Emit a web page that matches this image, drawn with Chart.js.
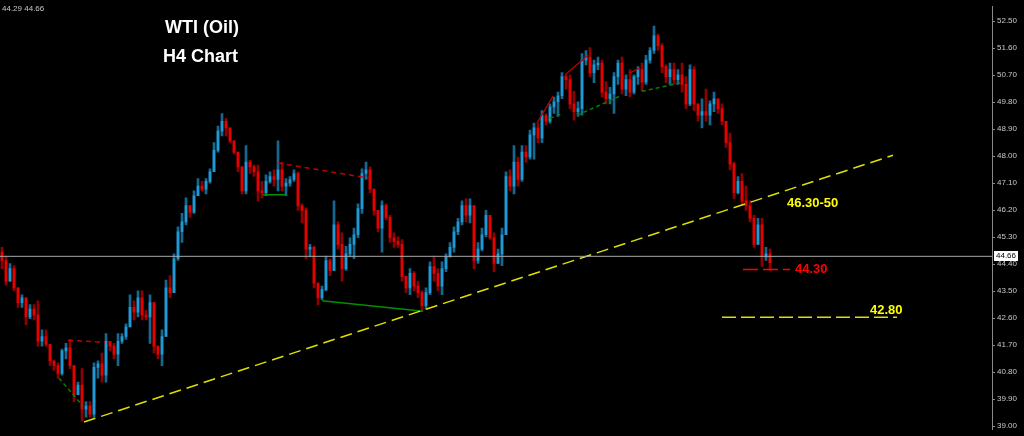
<!DOCTYPE html>
<html lang="en">
<head>
<meta charset="UTF-8">
<title>WTI (Oil) H4 Chart</title>
<script src="https://cdn.jsdelivr.net/npm/chart.js"></script>
<style>
  html, body { margin: 0; padding: 0; background: #000; overflow: hidden; }
  #wrap { width: 1024px; height: 436px; }
</style>
</head>
<body>
<div id="wrap"><canvas id="oilChart" width="1024" height="436"></canvas></div>
<script>
// H4 candles; each bar opens at the previous close
const firstOpen = 44.80;
const highs = [
  44.96, 44.67, 44.42, 44.35, 43.51, 43.38, 43.28, 43.05, 43.05, 43.18,
  42.21, 42.21, 41.67, 41.18, 41.11, 41.57, 41.76, 41.89, 41.02, 40.47,
  40.92, 39.82, 39.82, 41.11, 41.18, 41.44, 42.09, 41.83, 41.76, 42.09,
  42.09, 42.41, 43.38, 43.18, 43.51, 43.51, 42.86, 43.38, 43.12, 41.67,
  42.21, 43.87, 44.02, 44.74, 45.64, 46.09, 46.61, 46.35, 46.84, 47.25,
  47.16, 47.25, 47.58, 48.45, 49.00, 49.42, 49.26, 48.94, 48.51, 48.13,
  47.64, 48.35, 47.86, 47.70, 47.70, 47.16, 47.38, 47.48, 47.54, 48.51,
  47.80, 47.25, 47.32, 47.54, 47.48, 46.41, 46.28, 45.06, 44.99, 43.77,
  43.67, 44.67, 44.58, 46.51, 45.81, 45.44, 44.99, 45.28, 45.60, 46.41,
  47.58, 47.80, 47.64, 46.90, 46.19, 46.51, 46.41, 46.03, 45.44, 45.31,
  45.22, 43.99, 44.25, 44.15, 43.83, 43.51, 43.61, 44.48, 44.67, 44.25,
  44.48, 44.74, 45.12, 45.64, 45.93, 46.51, 46.58, 46.58, 46.35, 45.12,
  45.60, 46.19, 46.03, 45.44, 44.90, 45.60, 47.48, 47.54, 48.35, 47.97,
  48.35, 48.35, 48.87, 49.10, 49.10, 49.52, 49.42, 49.74, 49.97, 50.13,
  50.78, 50.71, 50.71, 50.16, 49.81, 51.42, 51.52, 51.62, 51.20, 51.30,
  51.20, 50.48, 50.29, 50.78, 51.20, 51.30, 50.71, 50.88, 50.71, 50.98,
  51.10, 51.36, 51.62, 52.33, 52.07, 51.75, 51.04, 51.10, 51.10, 50.88,
  51.10, 50.65, 51.04, 50.98, 49.74, 49.91, 50.23, 49.84, 50.13, 49.91,
  49.74, 49.16, 48.77, 47.80, 47.32, 47.42, 47.00, 46.51, 46.03, 45.93,
  45.93, 44.96, 44.90
];
const lows = [
  44.25, 43.70, 43.93, 43.51, 42.96, 42.96, 42.38, 42.58, 42.54, 41.67,
  41.67, 41.67, 41.02, 40.86, 40.60, 40.70, 41.24, 40.92, 39.82, 40.05,
  39.17, 39.30, 39.30, 39.30, 40.60, 40.47, 40.47, 41.51, 41.24, 41.02,
  41.76, 41.89, 42.64, 42.54, 42.64, 42.54, 42.54, 41.76, 41.44, 41.24,
  41.02, 41.99, 43.28, 43.45, 44.52, 45.12, 45.71, 45.96, 46.09, 46.68,
  46.84, 46.74, 47.10, 47.48, 48.13, 48.67, 48.67, 48.45, 48.07, 47.48,
  46.74, 46.74, 47.42, 47.32, 46.51, 46.61, 46.68, 47.10, 47.00, 46.84,
  46.84, 46.68, 47.00, 47.16, 46.19, 45.77, 44.58, 44.64, 43.61, 43.05,
  43.22, 43.51, 44.02, 44.19, 44.90, 43.83, 44.19, 44.64, 44.58, 45.28,
  46.09, 47.22, 46.78, 46.03, 45.48, 44.80, 45.87, 45.12, 44.96, 44.96,
  43.83, 43.45, 43.38, 43.51, 43.28, 42.83, 42.90, 43.38, 43.83, 43.51,
  43.38, 44.15, 44.64, 44.80, 45.38, 45.71, 45.81, 45.77, 44.25, 44.42,
  44.84, 45.31, 45.22, 44.15, 44.52, 44.35, 45.81, 46.84, 46.74, 47.00,
  47.16, 47.80, 47.90, 47.90, 48.45, 48.45, 49.04, 49.10, 49.42, 49.32,
  49.91, 50.23, 49.58, 49.20, 49.32, 49.36, 51.04, 50.65, 50.45, 50.88,
  49.97, 49.74, 49.74, 49.42, 50.39, 50.07, 50.01, 49.97, 50.07, 50.39,
  50.16, 50.39, 51.10, 51.42, 51.52, 50.78, 50.45, 50.39, 50.39, 50.39,
  50.13, 49.58, 49.68, 49.52, 49.16, 48.94, 49.16, 49.04, 49.48, 49.42,
  49.04, 48.29, 47.54, 46.58, 46.74, 46.35, 46.19, 45.81, 44.96, 45.06,
  44.32, 44.52, 44.19
];
const closes = [
  44.52, 43.83, 44.25, 43.61, 43.12, 43.28, 42.64, 42.90, 42.70, 41.83,
  41.99, 41.73, 41.18, 41.02, 40.76, 41.51, 41.61, 41.02, 40.05, 40.37,
  39.57, 39.67, 39.40, 40.96, 41.08, 40.70, 41.83, 41.67, 41.40, 41.83,
  41.99, 42.31, 42.96, 42.80, 43.28, 42.70, 42.64, 43.12, 41.67, 41.40,
  41.99, 43.61, 43.45, 44.58, 45.48, 45.81, 46.35, 46.13, 46.68, 47.00,
  46.90, 47.16, 47.48, 48.19, 48.83, 49.16, 48.94, 48.51, 48.13, 47.64,
  46.84, 47.80, 47.64, 47.48, 46.84, 46.78, 47.16, 47.32, 47.22, 47.54,
  47.00, 47.10, 47.22, 47.42, 46.35, 46.19, 44.90, 44.96, 43.77, 43.28,
  43.55, 44.52, 44.19, 45.71, 45.06, 44.25, 44.74, 45.06, 45.38, 46.25,
  47.42, 47.54, 46.90, 46.19, 45.60, 46.35, 45.96, 45.28, 45.16, 45.06,
  43.99, 43.61, 44.09, 43.67, 43.45, 43.02, 43.45, 44.32, 44.09, 43.67,
  44.25, 44.64, 44.96, 45.48, 45.81, 46.35, 46.03, 46.35, 44.52, 44.90,
  45.38, 46.03, 45.28, 44.42, 44.74, 45.38, 47.32, 47.00, 47.80, 47.22,
  48.13, 47.97, 48.71, 48.94, 48.61, 49.36, 49.16, 49.64, 49.81, 50.01,
  50.65, 50.55, 49.74, 49.48, 49.58, 51.20, 51.30, 50.78, 51.04, 51.10,
  50.13, 49.91, 50.07, 50.65, 51.10, 50.23, 50.55, 50.13, 50.65, 50.88,
  50.46, 51.20, 51.52, 52.01, 51.68, 50.98, 50.65, 50.88, 50.55, 50.71,
  50.39, 49.74, 50.88, 49.74, 49.36, 49.48, 49.36, 49.74, 49.91, 49.58,
  49.16, 48.45, 47.74, 46.78, 47.16, 46.51, 46.35, 45.93, 45.06, 45.71,
  44.64, 44.74, 44.45
];

const priceTicks = [52.50, 51.60, 50.70, 49.80, 48.90, 48.00, 47.10, 46.20,
  45.30, 44.40, 43.50, 42.60, 41.70, 40.80, 39.90, 39.00];
const bidAsk = '44.29 44.66';
const lastPrice = 44.66;

// hand-drawn lines on the chart, as [bar index, price]
const trendLine = [[20.5, 39.14], [222.75, 48.03]];
const level4280 = [[180, 42.63], [223.75, 42.63]];
const level4430 = [[185.25, 44.22], [197, 44.22]];
const redDashTop = [[69, 47.77], [92, 47.26]];
const redDashLow = [[16.5, 41.86], [25.75, 41.80]];
const greenMid = [[65.25, 46.71], [70.75, 46.71]];
const greenLow = [[80, 43.18], [105.25, 42.83]];
const greenDashLeft = [[14.25, 40.60], [20.25, 39.67]];
const greenDashTop1 = [[137, 49.26], [140.25, 49.42]];
const greenDashTop2 = [[143.75, 49.36], [154.5, 50.00]];
const greenDashTop3 = [[160, 50.16], [170, 50.45]];
const redTop1 = [[133.75, 49.10], [137.75, 50.00]];
const redTop2 = [[140.75, 50.71], [146.5, 51.36]];
const redTop3 = [[157, 50.78], [159.5, 50.94]];

const opens = closes.map((c, i) => i === 0 ? firstOpen : closes[i - 1]);
const isUp = closes.map((c, i) => c >= opens[i]);

const wickData = closes.map((c, i) => ({
  x: i, y: [Math.min(lows[i], opens[i], c), Math.max(highs[i], opens[i], c)]
}));
const bodyData = closes.map((c, i) => ({ x: i, y: [opens[i], c] }));

function lineSet(points, color, width, dash) {
  return {
    type: 'line',
    data: points.map(p => ({ x: p[0], y: p[1] })),
    borderColor: color,
    borderWidth: width,
    borderDash: dash || [],
    pointRadius: 0,
    fill: false,
    order: 1
  };
}

const textPlugin = {
  id: 'texts',
  afterDraw(chart) {
    const ctx = chart.ctx;
    const y = chart.scales.y;
    const x = chart.scales.x;
    ctx.save();
    ctx.textBaseline = 'alphabetic';

    ctx.fillStyle = '#c8c8c8';
    ctx.font = '8px "Liberation Sans", Arial, sans-serif';
    ctx.fillText(bidAsk, 2, 11);

    ctx.fillStyle = '#ffffff';
    ctx.font = 'bold 18px "Liberation Sans", Arial, sans-serif';
    ctx.fillText('WTI (Oil)', 165, 33);
    ctx.fillText('H4 Chart', 163, 62);

    ctx.font = 'bold 13px "Liberation Sans", Arial, sans-serif';
    ctx.fillStyle = '#ffff00';
    ctx.fillText('46.30-50', x.getPixelForValue(196.25), 207);
    ctx.fillText('42.80', x.getPixelForValue(217), y.getPixelForValue(level4280[0][1]) - 3);
    ctx.fillStyle = '#ff0000';
    ctx.fillText('44.30', x.getPixelForValue(198.25), y.getPixelForValue(level4430[0][1]) + 3);

    // current price box on the axis
    const py = Math.round(y.getPixelForValue(lastPrice));
    ctx.fillStyle = '#ffffff';
    ctx.fillRect(994, py - 5, 24, 10);
    ctx.fillStyle = '#000000';
    ctx.font = '8px "Liberation Sans", Arial, sans-serif';
    ctx.textBaseline = 'middle';
    ctx.fillText(lastPrice.toFixed(2), 996, py);
    ctx.restore();
  }
};

new Chart(document.getElementById('oilChart'), {
  type: 'bar',
  data: {
    datasets: [
      lineSet([[-0.5, lastPrice], [247.5, lastPrice]], '#a8a8a8', 1),
      lineSet(trendLine, '#e0e000', 1.5, [12, 6]),
      lineSet(level4280, '#e0e000', 1.5, [14, 5]),
      lineSet(level4430, '#ff0000', 1.5, [15, 5]),
      lineSet(redDashTop, '#c00000', 1.5, [5, 4]),
      lineSet(redDashLow, '#c00000', 1.5, [5, 4]),
      lineSet(greenMid, '#009000', 1.5),
      lineSet(greenLow, '#009000', 1.5),
      lineSet(greenDashLeft, '#008000', 1.5, [4, 3]),
      lineSet(greenDashTop1, '#008000', 1.5, [4, 3]),
      lineSet(greenDashTop2, '#008000', 1.5, [4, 3]),
      lineSet(greenDashTop3, '#008000', 1.5, [4, 3]),
      lineSet(redTop1, '#c00000', 1.2),
      lineSet(redTop2, '#c00000', 1.2),
      lineSet(redTop3, '#c00000', 1.2),
      {
        data: bodyData,
        backgroundColor: isUp.map(u => u ? '#1e9ad6' : '#e60000'),
        barThickness: 2,
        minBarLength: 1,
        grouped: false,
        order: 2
      },
      {
        data: wickData,
        backgroundColor: isUp.map(u => u ? '#15688f' : '#900000'),
        barThickness: 2,
        grouped: false,
        order: 3
      }
    ]
  },
  options: {
    responsive: false,
    animation: false,
    events: [],
    layout: { padding: 0 },
    plugins: { legend: { display: false }, tooltip: { enabled: false } },
    scales: {
      x: { type: 'linear', min: -0.5, max: 247.5, offset: false, display: false },
      y: {
        position: 'right',
        min: 38.9,
        max: 52.975,
        afterFit(scale) { scale.width = 32; },
        afterBuildTicks(scale) { scale.ticks = priceTicks.map(v => ({ value: v })); },
        grid: { drawOnChartArea: false, color: '#8a8a8a', tickLength: 3 },
        border: { display: true, color: '#8a8a8a' },
        ticks: {
          color: '#c8c8c8',
          padding: 2,
          font: { family: '"Liberation Sans", Arial, sans-serif', size: 8 },
          callback: v => Number(v).toFixed(2)
        }
      }
    }
  },
  plugins: [textPlugin]
});
</script>
</body>
</html>
